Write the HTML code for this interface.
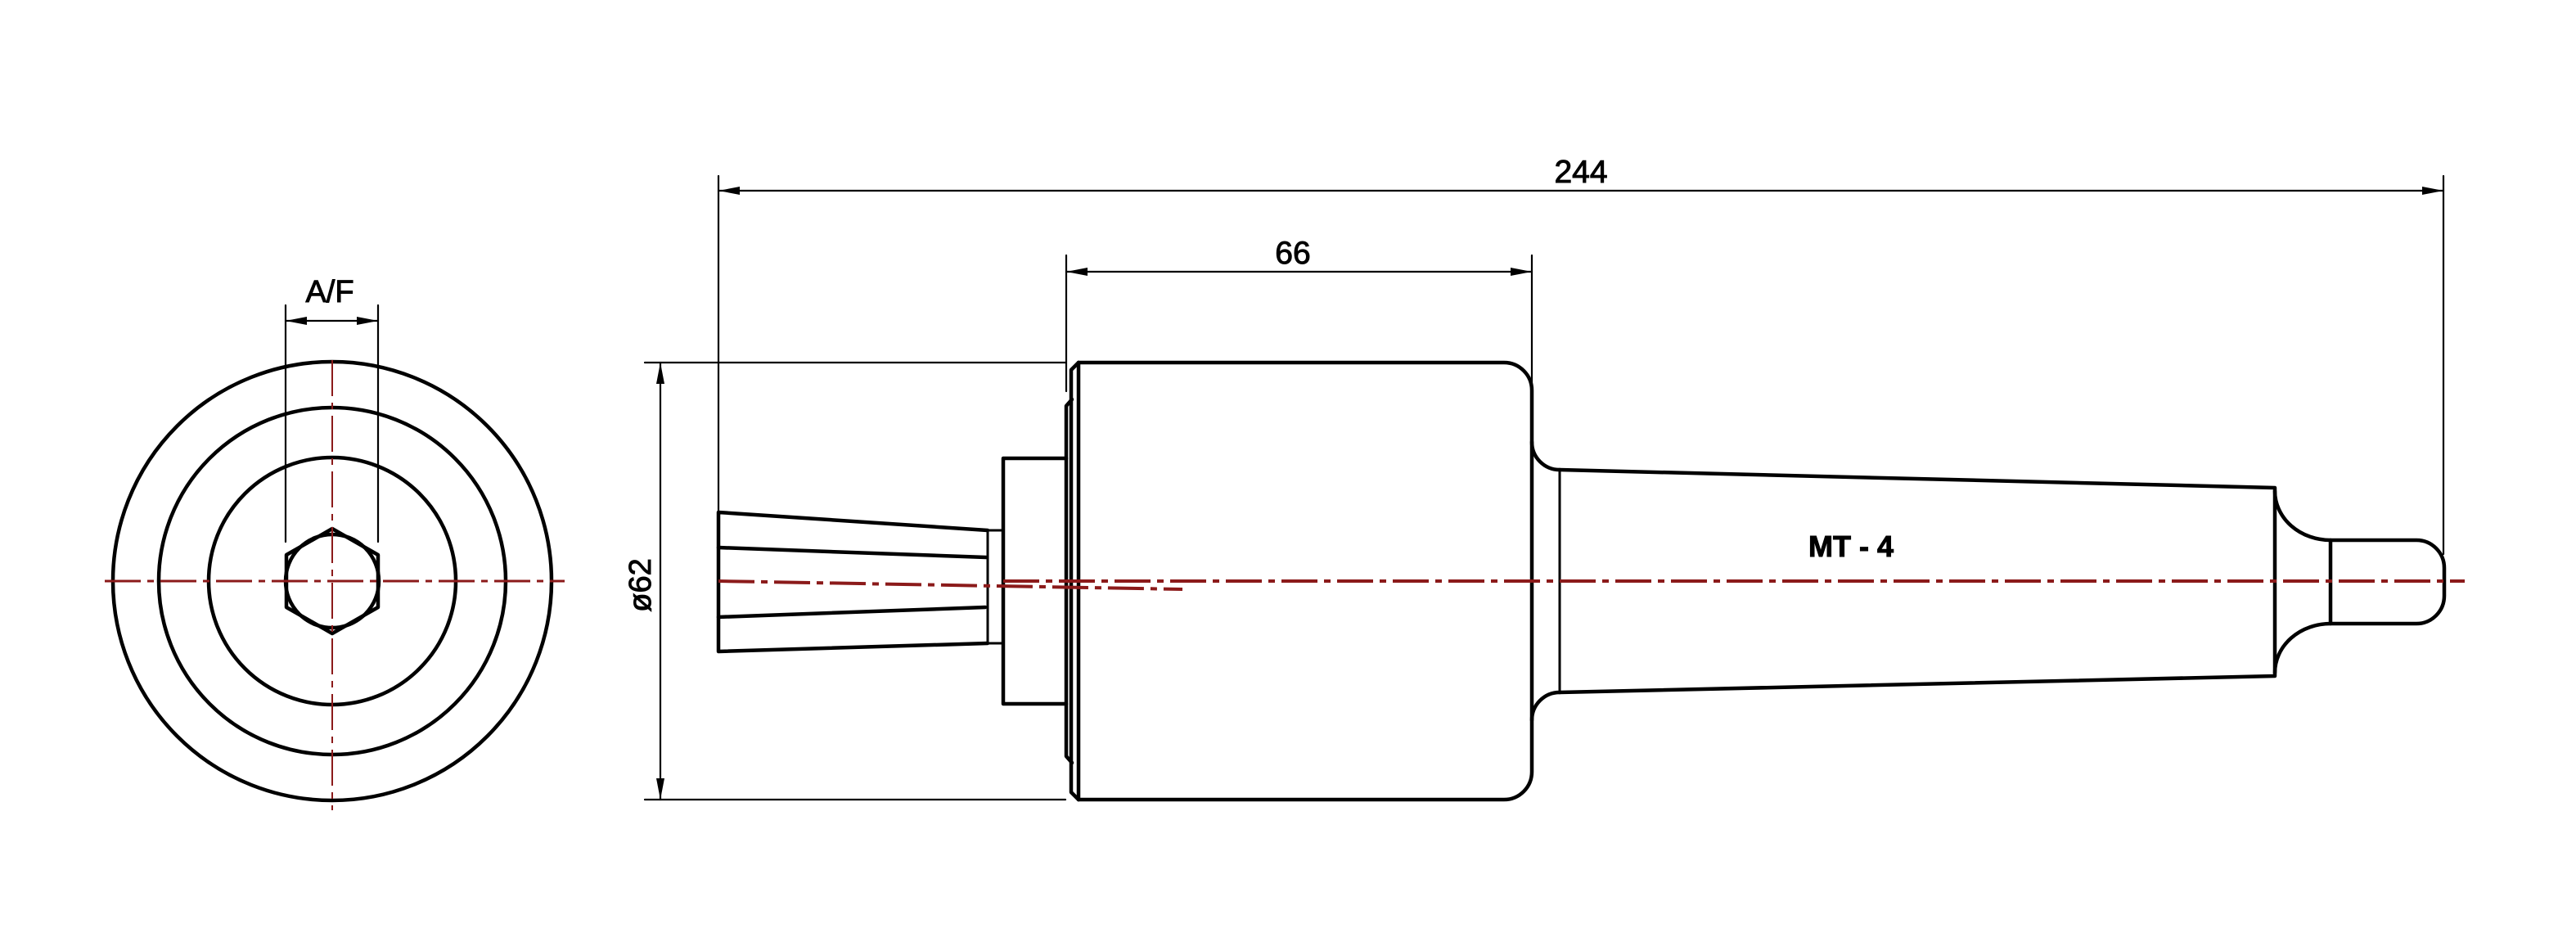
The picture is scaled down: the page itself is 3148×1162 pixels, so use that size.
<!DOCTYPE html>
<html><head><meta charset="utf-8"><style>html,body{margin:0;padding:0;background:#fff}svg{display:block}</style></head>
<body>
<svg width="3148" height="1162" viewBox="0 0 3148 1162" xmlns="http://www.w3.org/2000/svg">
<defs>
<marker id="ar" viewBox="0 0 26 10" refX="26" refY="5" markerWidth="26" markerHeight="10" markerUnits="userSpaceOnUse" orient="auto-start-reverse"><path d="M0,0 L26,5 L0,10 Z" fill="#000"/></marker>
</defs>
<g fill="none" stroke="#000" stroke-linecap="round" stroke-linejoin="round">
<g stroke-width="4.5">
<circle cx="406" cy="710" r="268"/>
<circle cx="406" cy="710" r="212"/>
<circle cx="406" cy="710" r="151"/>
<polygon points="406,646 462,678 462,742 406,774 350,742 350,678"/>
<circle cx="406" cy="710" r="57"/>
</g>
<g stroke-width="2.2">
<line x1="349" y1="373" x2="349" y2="662"/>
<line x1="462" y1="373" x2="462" y2="662"/>
<line x1="349" y1="392" x2="462" y2="392" marker-start="url(#ar)" marker-end="url(#ar)"/>
</g>
<g stroke-width="2.2">
<line x1="878" y1="215" x2="878" y2="626"/>
<line x1="2986" y1="215" x2="2986" y2="677"/>
<line x1="878" y1="233" x2="2986" y2="233" marker-start="url(#ar)" marker-end="url(#ar)"/>
<line x1="1303" y1="312" x2="1303" y2="478"/>
<line x1="1872" y1="312" x2="1872" y2="477"/>
<line x1="1303" y1="332" x2="1872" y2="332" marker-start="url(#ar)" marker-end="url(#ar)"/>
<line x1="788" y1="443" x2="1302" y2="443"/>
<line x1="788" y1="977" x2="1302" y2="977"/>
<line x1="807" y1="443" x2="807" y2="977" marker-start="url(#ar)" marker-end="url(#ar)"/>
</g>
<g stroke-width="4.5">
<polyline points="1207,648 878,626 878,796 1207,786"/>
<line x1="878" y1="669" x2="1205" y2="681"/>
<line x1="878" y1="754" x2="1204" y2="742"/>
<line x1="1207" y1="648" x2="1207" y2="786" stroke-width="3"/>
<line x1="1207" y1="648" x2="1226" y2="648" stroke-width="3"/>
<line x1="1207" y1="786" x2="1226" y2="786" stroke-width="3"/>
<polyline points="1303,560 1226,560 1226,860 1303,860"/>
<polyline points="1310,488 1303,496 1303,924 1310,932"/>
<polyline points="1318,443 1309,452 1309,968 1318,977"/>
<line x1="1318" y1="443" x2="1318" y2="977"/>
<path d="M1318,443 L1838,443 A34,34 0 0 1 1872,477 L1872,943 A34,34 0 0 1 1838,977 L1318,977"/>
<path d="M1872,540 A34,34 0 0 0 1906,574"/>
<path d="M1872,880 A34,34 0 0 1 1906,846"/>
<polyline points="1906,574 2780,596 2780,826 1906,846"/>
<line x1="1906" y1="574" x2="1906" y2="846" stroke-width="3"/>
<path d="M2780,600 A68,60 0 0 0 2848,660"/>
<path d="M2780,822 A68,60 0 0 1 2848,762"/>
<path d="M2848,660 L2953,660 A34,34 0 0 1 2987,694 L2987,728 A34,34 0 0 1 2953,762 L2848,762 Z"/>
</g>
</g>
<g stroke="#8b1a1a" stroke-width="3" fill="none" stroke-dasharray="44,8,8,8">
<line x1="128" y1="710" x2="690" y2="710"/>
<line x1="406" y1="440" x2="406" y2="990" stroke-width="2"/>
<line x1="1226" y1="710" x2="3012" y2="710" stroke-width="4"/>
<line x1="878" y1="710" x2="1445" y2="720" stroke-width="4"/>
</g>
<g font-family="'Liberation Sans', 'DejaVu Sans', sans-serif" fill="#000" stroke="#000" stroke-width="1">
<text x="1932" y="223" font-size="39" text-anchor="middle">244</text>
<text x="1580" y="322" font-size="39" text-anchor="middle">66</text>
<text x="403" y="369" font-size="38" text-anchor="middle">A/F</text>
<text x="2262" y="680" font-size="36" font-weight="bold" text-anchor="middle">MT - 4</text>
<text transform="translate(795,715) rotate(-90)" font-size="38" text-anchor="middle">ø62</text>
</g>
</svg>
</body></html>
